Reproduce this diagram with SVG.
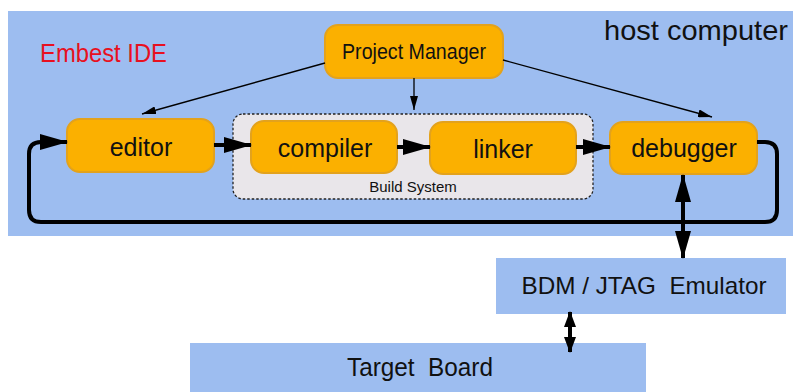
<svg xmlns="http://www.w3.org/2000/svg" width="793" height="392" viewBox="0 0 793 392">
<defs>
<style>
.host{fill:#9dbdf0;}
.node rect{fill:#fbb000;stroke:#e3a21c;stroke-width:2;}
.lbl{font-family:"Liberation Sans",Arial,sans-serif;fill:#111;text-anchor:middle;}
.thick{fill:none;stroke:#000;stroke-width:4;}
.thin{fill:none;stroke:#000;stroke-width:1.3;}
</style>
<marker id="big" viewBox="0 0 28 16" markerWidth="28" markerHeight="16" refX="27" refY="8" orient="auto-start-reverse" markerUnits="userSpaceOnUse">
<path d="M0,0 L28,8 L0,16 z" fill="#000"/>
</marker>
<marker id="mid" viewBox="0 0 16 12" markerWidth="16" markerHeight="12" refX="15" refY="6" orient="auto-start-reverse" markerUnits="userSpaceOnUse">
<path d="M0,0 L16,6 L0,12 z" fill="#000"/>
</marker>
<marker id="small" viewBox="0 0 14 8" markerWidth="14" markerHeight="8" refX="14" refY="4" orient="auto" markerUnits="userSpaceOnUse">
<path d="M0,0 L14,4 L0,8 z" fill="#000"/>
</marker>
</defs>
<rect width="793" height="392" fill="#fff"/>
<rect id="host" class="host" x="8" y="11" width="785" height="225"/>
<text class="lbl" x="696" y="40" font-size="28" textLength="184" lengthAdjust="spacingAndGlyphs">host computer</text>
<text x="40" y="62" font-family="'Liberation Sans',Arial,sans-serif" font-size="25" fill="#e81020" textLength="127" lengthAdjust="spacingAndGlyphs">Embest IDE</text>
<g id="build-system">
<rect x="233" y="114" width="360" height="85" rx="10" fill="#e9e6ea" stroke="#222" stroke-width="1.3" stroke-dasharray="2.5,2"/>
<text class="lbl" x="413" y="192" font-size="15">Build System</text>
</g>
<g id="project-manager" class="node">
<rect x="325" y="25" width="178" height="53" rx="13"/>
<text class="lbl" x="414" y="59" font-size="22" textLength="144" lengthAdjust="spacingAndGlyphs">Project Manager</text>
</g>
<g id="editor" class="node">
<rect x="67" y="119" width="147" height="53" rx="13"/>
<text class="lbl" x="141" y="156" font-size="25">editor</text>
</g>
<g id="compiler" class="node">
<rect x="251" y="121" width="146" height="52" rx="13"/>
<text class="lbl" x="325" y="157" font-size="25">compiler</text>
</g>
<g id="linker" class="node">
<rect x="430" y="122" width="146" height="52" rx="13"/>
<text class="lbl" x="503" y="158" font-size="25">linker</text>
</g>
<g id="debugger" class="node">
<rect x="610" y="122" width="147" height="52" rx="13"/>
<text class="lbl" x="684" y="157" font-size="25">debugger</text>
</g>
<g id="emulator">
<rect x="496" y="258" width="290" height="56" fill="#9dbdf0"/>
<text class="lbl" x="644" y="294" font-size="24" xml:space="preserve" textLength="245" lengthAdjust="spacingAndGlyphs">BDM / JTAG  Emulator</text>
</g>
<g id="target-board">
<rect x="190" y="343" width="456" height="49" fill="#9dbdf0"/>
<text class="lbl" x="420" y="376" font-size="26" xml:space="preserve" textLength="146" lengthAdjust="spacingAndGlyphs">Target  Board</text>
</g>
<g id="connectors">
<line class="thin" x1="325" y1="63" x2="142" y2="114" marker-end="url(#small)"/>
<line class="thin" x1="414" y1="78" x2="414" y2="110" marker-end="url(#small)"/>
<line class="thin" x1="503" y1="60" x2="712" y2="117" marker-end="url(#small)"/>
<line class="thick" x1="214" y1="145" x2="251" y2="145" marker-end="url(#big)"/>
<line class="thick" x1="397" y1="147" x2="430" y2="147" marker-end="url(#big)"/>
<line class="thick" x1="576" y1="147" x2="610" y2="147" marker-end="url(#big)"/>
<path class="thick" d="M757,142 H765 Q777,142 777,154 V210 Q777,222 765,222 H41 Q29,222 29,210 V154 Q29,142 41,142 H67" marker-end="url(#big)"/>
<line class="thick" x1="683" y1="175" x2="683" y2="258" marker-start="url(#big)" marker-end="url(#big)"/>
<line class="thick" x1="570" y1="312" x2="570" y2="352" stroke-width="3" marker-start="url(#mid)" marker-end="url(#mid)"/>
</g>
</svg>
